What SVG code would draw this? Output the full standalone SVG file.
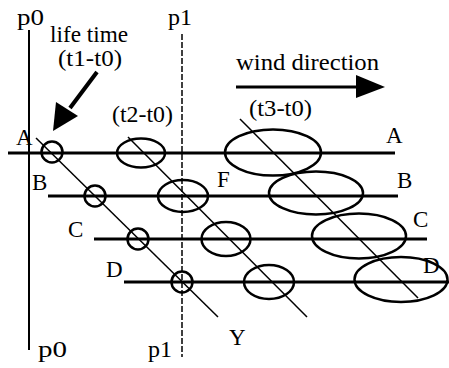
<svg xmlns="http://www.w3.org/2000/svg" width="449" height="368" viewBox="0 0 449 368">
<style>
text{font-family:"Liberation Serif","Times New Roman",serif;font-size:23px;fill:#000}
.h{stroke:#000;stroke-width:3;fill:none}
.d{stroke:#000;stroke-width:1.5;fill:none}
.e{stroke:#000;stroke-width:2.5;fill:none}
</style>
<rect width="449" height="368" fill="#fff"/>
<g id="axes">
<line x1="29" y1="30" x2="29" y2="350" stroke="#000" stroke-width="2"/>
<line x1="182" y1="34" x2="182" y2="357" stroke="#000" stroke-width="1.5" stroke-dasharray="6 2"/>
<text x="17" y="25" textLength="27" lengthAdjust="spacingAndGlyphs">p0</text>
<text x="168" y="25" textLength="24" lengthAdjust="spacingAndGlyphs">p1</text>
<text x="38" y="357" textLength="29" lengthAdjust="spacingAndGlyphs">p0</text>
<text x="148" y="357" textLength="24" lengthAdjust="spacingAndGlyphs">p1</text>
</g>
<g id="tracks">
<line class="h" x1="8" y1="153" x2="395" y2="153"/>
<line class="h" x1="48" y1="196" x2="398" y2="196"/>
<line class="h" x1="94" y1="239" x2="427" y2="239"/>
<line class="h" x1="124" y1="282" x2="449" y2="282"/>
<text x="16" y="145">A</text>
<text x="32" y="190">B</text>
<text x="68" y="237">C</text>
<text x="106" y="277">D</text>
<text x="386" y="143">A</text>
<text x="397" y="188">B</text>
<text x="413" y="227">C</text>
<text x="423" y="273">D</text>
</g>
<g id="connectors">
<line class="d" x1="36" y1="138" x2="218" y2="317"/>
<line class="d" x1="128" y1="137" x2="307" y2="317"/>
<line class="d" x1="240" y1="119" x2="418" y2="298"/>
</g>
<g id="t1">
<circle class="e" cx="52" cy="152" r="10.5"/>
<circle class="e" cx="95" cy="196" r="10.5"/>
<circle class="e" cx="138" cy="239" r="10.5"/>
<circle class="e" cx="182" cy="282" r="10.5"/>
</g>
<g id="t2">
<ellipse class="e" cx="141" cy="153" rx="24" ry="14.5"/>
<ellipse class="e" cx="183" cy="196" rx="25" ry="16"/>
<ellipse class="e" cx="226" cy="239" rx="24.5" ry="17"/>
<ellipse class="e" cx="269" cy="282" rx="25" ry="17"/>
<text x="112" y="122" textLength="61" lengthAdjust="spacingAndGlyphs">(t2-t0)</text>
<text x="217" y="187">F</text>
<text x="229" y="345">Y</text>
</g>
<g id="t3">
<ellipse class="e" cx="273" cy="152.5" rx="48" ry="23"/>
<ellipse class="e" cx="316" cy="193" rx="47" ry="21.5"/>
<ellipse class="e" cx="359" cy="236" rx="47" ry="22.5"/>
<ellipse class="e" cx="401" cy="279.5" rx="46.5" ry="22.5"/>
<text x="249" y="116" textLength="63" lengthAdjust="spacingAndGlyphs">(t3-t0)</text>
</g>
<g id="lifetime">
<text x="50" y="42" textLength="78" lengthAdjust="spacingAndGlyphs">life time</text>
<text x="58" y="66" textLength="64" lengthAdjust="spacingAndGlyphs">(t1-t0)</text>
<line x1="97" y1="72" x2="70" y2="108" stroke="#000" stroke-width="4"/>
<polygon points="53,131 56,102 78,116"/>
</g>
<g id="wind">
<text x="236" y="70" textLength="143" lengthAdjust="spacingAndGlyphs">wind direction</text>
<line x1="236" y1="87" x2="360" y2="87" stroke="#000" stroke-width="3"/>
<polygon points="356,75 385,87 356,98"/>
</g>
</svg>
